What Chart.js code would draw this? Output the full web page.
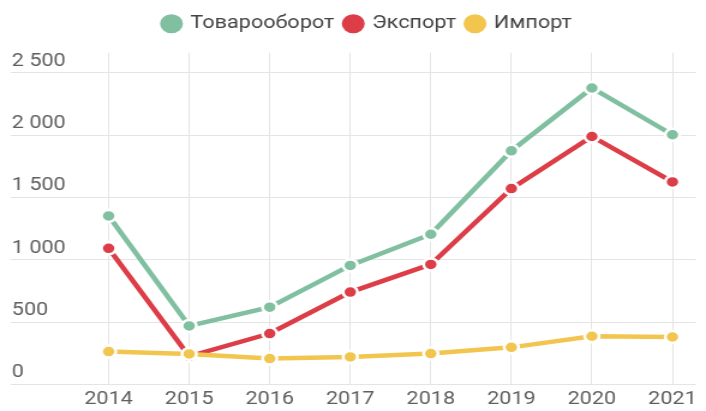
<!DOCTYPE html>
<html lang="ru">
<head>
<meta charset="utf-8">
<title>Товарооборот, экспорт и импорт</title>
<script src="https://cdn.jsdelivr.net/npm/chart.js@4/dist/chart.umd.min.js"></script>
<style>
  html, body { margin: 0; padding: 0; background: #fff; }
  #tradeChart { display: block; }
</style>
</head>
<body>
<!-- drawn 588 px wide, shown stretched to 706 px -->
<canvas id="tradeChart" width="588" height="411" style="width:706px;height:411px"></canvas>
<script>
var years = [2014, 2015, 2016, 2017, 2018, 2019, 2020, 2021];
var tovarooborot = [1351, 469, 619, 954, 1204, 1873, 2377, 2002];
var eksport = [1091, 225, 408, 740, 962, 1570, 1988, 1624];
var import_ = [263, 244, 207, 220, 247, 297, 386, 380];
var yTicks = [0, 500, 1000, 1500, 2000, 2500];
var seriesNames = ['Товарооборот', 'Экспорт', 'Импорт'];
var seriesColors = ['#80c0a1', '#dc3d46', '#f2c54e'];

function toPoints(values) {
  return values.map(function(v, i) { return { x: years[i], y: v }; });
}

function formatThousands(v) {
  return String(v).replace(/\B(?=(\d{3})+(?!\d))/g, ' ');
}

function makeDataset(i, values, order) {
  return {
    label: seriesNames[i],
    data: toPoints(values),
    borderColor: seriesColors[i],
    backgroundColor: seriesColors[i],
    borderWidth: 4.5,
    pointRadius: 6,
    pointHoverRadius: 6,
    pointBackgroundColor: seriesColors[i],
    pointBorderColor: '#ffffff',
    pointBorderWidth: 2.5,
    tension: 0,
    order: order
  };
}

// extra space under the legend, and nudge it a little to the right
var legendSpacing = {
  id: 'legendSpacing',
  beforeInit: function(chart) {
    var fit = chart.legend.fit;
    chart.legend.fit = function() {
      fit.call(this);
      this.height += 10;
    };
  },
  afterLayout: function(chart) {
    chart.legend.left += 8;
    chart.legend.right += 8;
  }
};

var gridColor = '#e4e4e4';
var tickFont = { family: 'Roboto', size: 18 };

var ctx = document.getElementById('tradeChart').getContext('2d');

var tradeChart = new Chart(ctx, {
  type: 'line',
  data: {
    datasets: [
      makeDataset(0, tovarooborot, 2),
      makeDataset(1, eksport, 1),
      makeDataset(2, import_, 0)
    ]
  },
  plugins: [legendSpacing],
  options: {
    responsive: false,
    animation: false,
    devicePixelRatio: 1,
    layout: {
      padding: { left: 8.3, right: 0, top: 5.7, bottom: -3 }
    },
    plugins: {
      tooltip: { enabled: false },
      legend: {
        position: 'top',
        align: 'center',
        labels: {
          usePointStyle: true,
          boxWidth: 13.5,
          boxHeight: 13.5,
          padding: 9,
          color: '#444444',
          font: { family: 'Roboto', size: 18 },
          generateLabels: function(chart) {
            return chart.data.datasets.map(function(ds, i) {
              return {
                text: ds.label,
                fillStyle: ds.backgroundColor,
                strokeStyle: ds.backgroundColor,
                lineWidth: 0,
                pointStyle: 'circle',
                fontColor: '#444444',
                hidden: !chart.isDatasetVisible(i),
                datasetIndex: i
              };
            });
          }
        }
      }
    },
    scales: {
      x: {
        type: 'linear',
        min: 2012.79,
        max: 2021.29,
        afterBuildTicks: function(axis) {
          axis.ticks = years.map(function(y) { return { value: y }; });
        },
        grid: { color: gridColor, drawTicks: false },
        border: { display: false },
        ticks: {
          autoSkip: false,
          maxRotation: 0,
          padding: 4,
          color: '#5f5f5f',
          font: tickFont,
          callback: function(v) { return String(v); }
        }
      },
      y: {
        min: 0,
        max: 2660,
        afterBuildTicks: function(axis) {
          axis.ticks = yTicks.map(function(v) { return { value: v }; });
        },
        grid: { color: gridColor, drawTicks: false },
        border: { display: false },
        ticks: {
          mirror: true,
          padding: 0.5,
          labelOffset: -11.5,
          color: '#5f5f5f',
          font: tickFont,
          callback: function(v) { return formatThousands(v); }
        }
      }
    }
  }
});
</script>
</body>
</html>
